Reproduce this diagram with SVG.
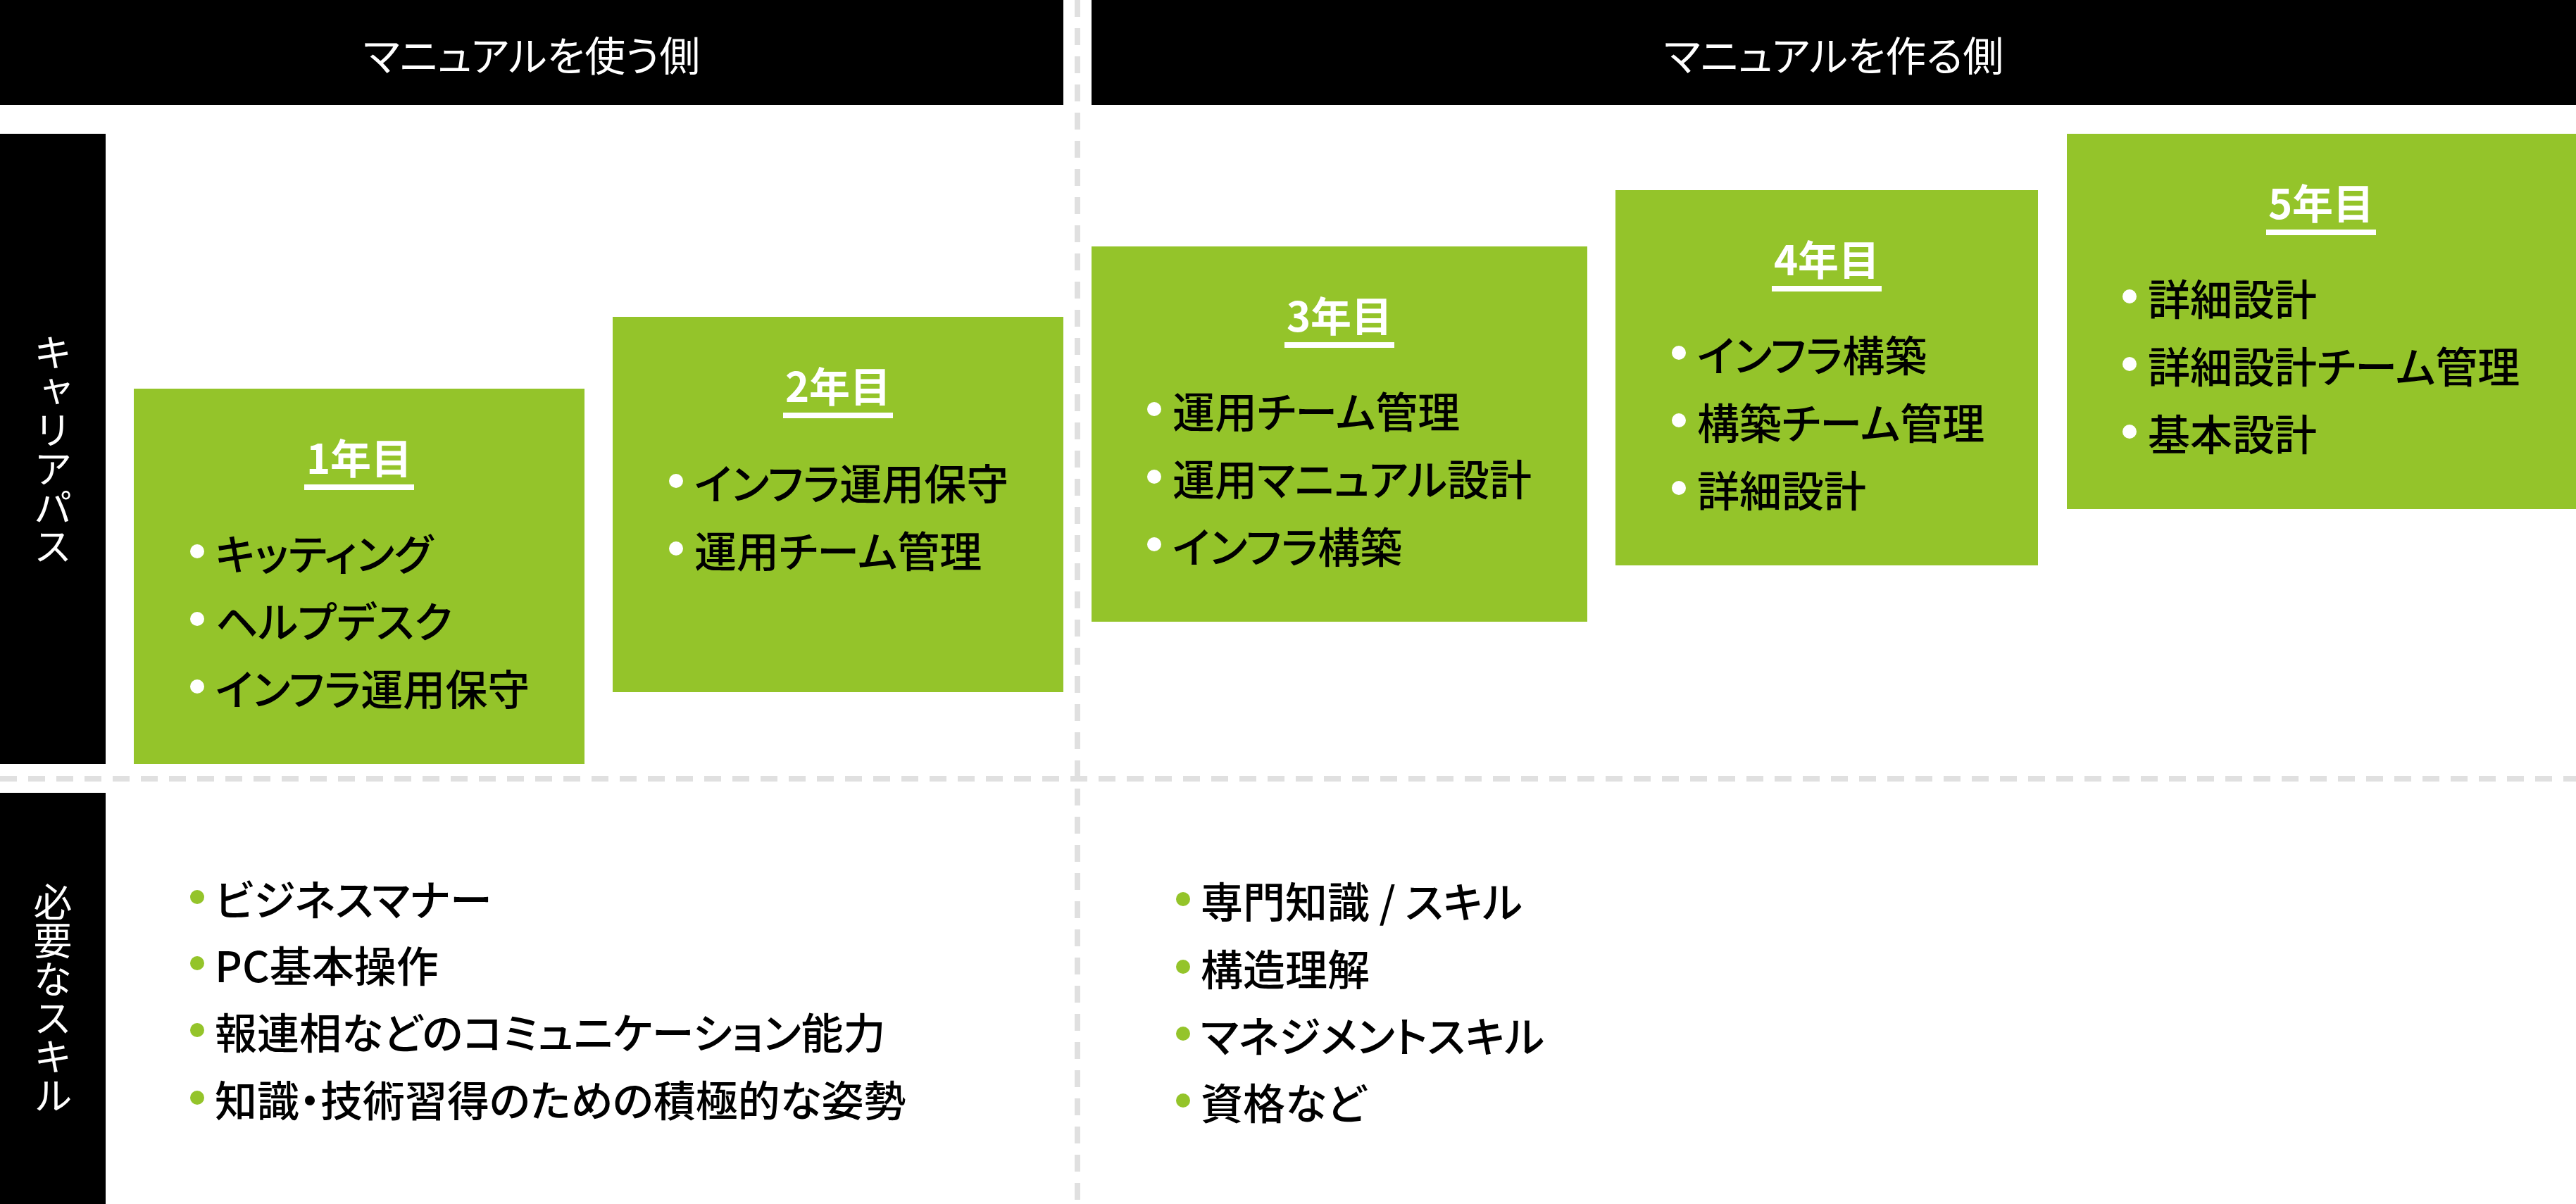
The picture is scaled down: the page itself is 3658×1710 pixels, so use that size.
<svg xmlns="http://www.w3.org/2000/svg" width="3658" height="1710" viewBox="0 0 3658 1710">
<style>
text{font-family:"Noto Sans CJK JP","Noto Sans",sans-serif;}
.bg{fill:#000;}
.box{fill:#94C42A;}
.hdr{fill:#fff;font-size:58px;text-anchor:middle;dominant-baseline:central;font-feature-settings:"palt";}
.vlab{fill:#fff;font-size:55px;writing-mode:vertical-rl;text-anchor:middle;}
.ttl{fill:#fff;font-size:58px;font-weight:700;text-anchor:middle;dominant-baseline:central;}
.ul{fill:#fff;}
.it{fill:#000;font-size:60px;font-weight:500;dominant-baseline:central;font-feature-settings:"palt";}
.bw{fill:#fff;}
.bg2{fill:#94C42A;}
.dash{stroke:#E0E0E0;stroke-width:8;stroke-dasharray:24 16;fill:none;}
</style>
<rect width="3658" height="1710" fill="#fff"/>
<g id="connectors">
<line class="dash" x1="1530" y1="0" x2="1530" y2="1710"/>
<line class="dash" x1="0" y1="1106" x2="3658" y2="1106"/>
</g>
<g id="header-use">
<rect class="bg" x="0" y="0" width="1510" height="149"/>
<text class="hdr" x="755" y="76">マニュアルを使う側</text>
</g>
<g id="header-make">
<rect class="bg" x="1550" y="0" width="2108" height="149"/>
<text class="hdr" x="2604" y="76">マニュアルを作る側</text>
</g>
<g id="label-career">
<rect class="bg" x="0" y="190" width="150" height="895"/>
<text class="vlab" x="75" y="638">キャリアパス</text>
</g>
<g id="label-skill">
<rect class="bg" x="0" y="1126" width="150" height="584"/>
<text class="vlab" x="75" y="1418">必要なスキル</text>
</g>
<g id="year1">
<rect class="box" x="190" y="552" width="640" height="533"/>
<text class="ttl" x="510" y="648">1年目</text>
<rect class="ul" x="432" y="688" width="156" height="8"/>
<circle class="bw" cx="280" cy="783" r="10"/><text class="it" x="306" y="783">キッティング</text>
<circle class="bw" cx="280" cy="879" r="10"/><text class="it" x="306" y="879">ヘルプデスク</text>
<circle class="bw" cx="280" cy="975" r="10"/><text class="it" x="306" y="975">インフラ運用保守</text>
</g>
<g id="year2">
<rect class="box" x="870" y="450" width="640" height="533"/>
<text class="ttl" x="1190" y="546">2年目</text>
<rect class="ul" x="1112" y="586" width="156" height="8"/>
<circle class="bw" cx="960" cy="683" r="10"/><text class="it" x="986" y="683">インフラ運用保守</text>
<circle class="bw" cx="960" cy="779" r="10"/><text class="it" x="986" y="779">運用チーム管理</text>
</g>
<g id="year3">
<rect class="box" x="1550" y="350" width="704" height="533"/>
<text class="ttl" x="1902" y="446">3年目</text>
<rect class="ul" x="1824" y="486" width="156" height="8"/>
<circle class="bw" cx="1639" cy="581" r="10"/><text class="it" x="1665" y="581">運用チーム管理</text>
<circle class="bw" cx="1639" cy="677" r="10"/><text class="it" x="1665" y="677">運用マニュアル設計</text>
<circle class="bw" cx="1639" cy="773" r="10"/><text class="it" x="1665" y="773">インフラ構築</text>
</g>
<g id="year4">
<rect class="box" x="2294" y="270" width="600" height="533"/>
<text class="ttl" x="2594" y="366">4年目</text>
<rect class="ul" x="2516" y="406" width="156" height="8"/>
<circle class="bw" cx="2384" cy="501" r="10"/><text class="it" x="2410" y="501">インフラ構築</text>
<circle class="bw" cx="2384" cy="597" r="10"/><text class="it" x="2410" y="597">構築チーム管理</text>
<circle class="bw" cx="2384" cy="693" r="10"/><text class="it" x="2410" y="693">詳細設計</text>
</g>
<g id="year5">
<rect class="box" x="2935" y="190" width="723" height="533"/>
<text class="ttl" x="3296" y="286">5年目</text>
<rect class="ul" x="3218" y="326" width="156" height="8"/>
<circle class="bw" cx="3024" cy="421" r="10"/><text class="it" x="3050" y="421">詳細設計</text>
<circle class="bw" cx="3024" cy="517" r="10"/><text class="it" x="3050" y="517">詳細設計チーム管理</text>
<circle class="bw" cx="3024" cy="613" r="10"/><text class="it" x="3050" y="613">基本設計</text>
</g>
<g id="skills-use">
<circle class="bg2" cx="280" cy="1274" r="10"/><text class="it" x="305" y="1274">ビジネスマナー</text>
<circle class="bg2" cx="280" cy="1368" r="10"/><text class="it" x="305" y="1368">PC基本操作</text>
<circle class="bg2" cx="280" cy="1463" r="10"/><text class="it" x="305" y="1463">報連相などのコミュニケーション能力</text>
<circle class="bg2" cx="280" cy="1559" r="10"/><text class="it" x="305" y="1559">知識・技術習得のための積極的な姿勢</text>
</g>
<g id="skills-make">
<circle class="bg2" cx="1680" cy="1277" r="10"/><text class="it" x="1705" y="1277">専門知識 / スキル</text>
<circle class="bg2" cx="1680" cy="1373" r="10"/><text class="it" x="1705" y="1373">構造理解</text>
<circle class="bg2" cx="1680" cy="1468" r="10"/><text class="it" x="1705" y="1468">マネジメントスキル</text>
<circle class="bg2" cx="1680" cy="1563" r="10"/><text class="it" x="1705" y="1563">資格など</text>
</g>
</svg>
